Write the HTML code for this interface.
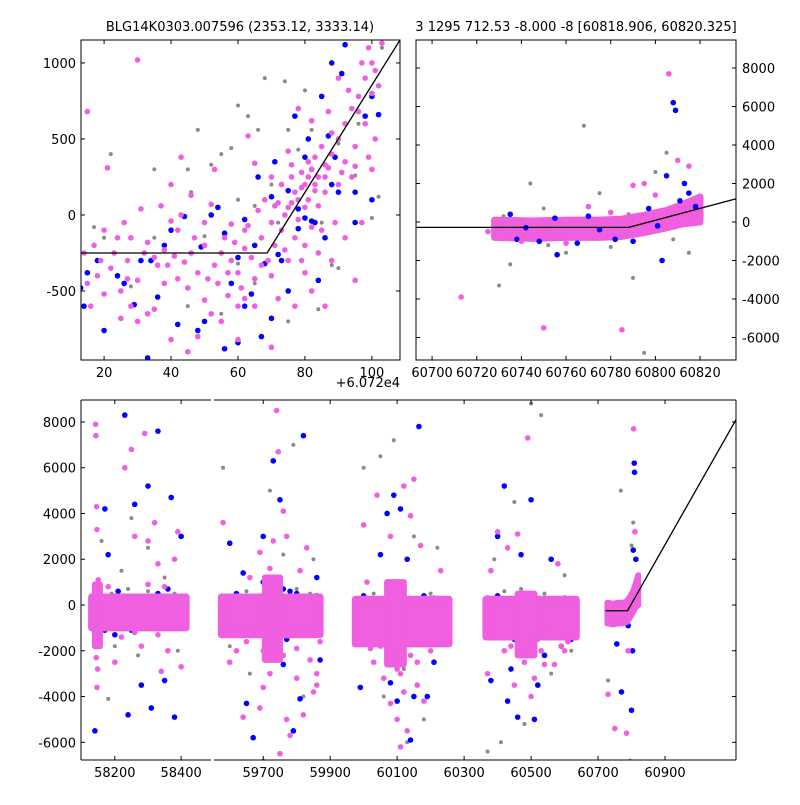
<!DOCTYPE html>
<html><head><meta charset="utf-8"><style>
body{margin:0;background:#fff}
svg text{font-family:"DejaVu Sans","Liberation Sans",sans-serif;font-size:13px;fill:#000}
</style></head><body>
<svg id="c" width="800" height="800" viewBox="0 0 800 800" xmlns="http://www.w3.org/2000/svg">
<rect width="800" height="800" fill="#fff"/>
<text x="240" y="31" text-anchor="middle">BLG14K0303.007596 (2353.12, 3333.14)</text>
<text x="576" y="31" text-anchor="middle">3 1295 712.53 -8.000 -8 [60818.906, 60820.325]</text>
<text x="400" y="387" text-anchor="end">+6.072e4</text>
<defs>
<clipPath id="cpA"><rect x="81" y="40" width="319" height="320"/></clipPath>
<clipPath id="cpB"><rect x="416" y="40" width="320" height="320"/></clipPath>
<clipPath id="cpC"><rect x="81" y="400" width="130" height="360"/></clipPath>
<clipPath id="cpD"><rect x="214" y="400" width="522" height="360"/></clipPath>
</defs>
<g id="layer"></g>
</svg>
<script>
// ---- top-left (zoomed, offset 60720) ----
const tlPink=[[15,680],[21,310],[30,1020],[40,-40],[42,-100],[33,-180],[27,-300],[18,-400],[22,-350],[25,-500],[30,-430],[35,-280],[38,-230],[44,-310],[47,-150],[50,-200],[55,-250],[58,-300],[60,-380],[62,-220],[45,-480],[50,-560],[52,-650],[55,-700],[35,-620],[30,-700],[20,-520],[16,-600],[48,-800],[60,-600],[65,-600],[67,-150],[63,-70],[58,-60],[52,70],[46,130],[40,200],[43,380],[53,300],[65,340],[63,520],[72,80],[74,0],[76,250],[78,100],[80,200],[82,300],[84,250],[86,150],[88,400],[90,500],[92,600],[94,700],[96,780],[98,900],[100,1000],[100,800],[102,850],[98,600],[95,450],[92,350],[90,200],[85,-100],[80,-200],[75,-300],[70,-400],[72,-550],[77,-600],[82,-500],[88,-300],[92,-150],[97,-50],[100,300],[101,500],[78,700],[82,620],[85,450],[88,540],[75,420],[70,250],[68,100],[66,30],[62,-100],[56,-150],[50,-50],[43,0],[37,60],[31,40],[26,-50],[20,-100],[17,-200],[14,-250],[23,-250],[28,-600],[33,-650],[38,-450],[42,-420],[48,-380],[54,-450],[57,-530],[61,-480],[65,-420],[69,-300],[71,-200],[73,-100],[75,50],[77,150],[79,280],[81,350],[83,380],[87,310],[91,280],[95,320],[99,380],[60,-820],[40,-820],[25,-680],[45,-900],[70,-870],[80,-380],[86,-600],[95,-430],[89,-50],[94,250],[96,680],[99,1100],[103,1130],[93,820],[87,680],[79,180],[81,100],[83,160],[76,80],[78,-30],[84,60],[86,330],[73,200],[71,60],[80,50],[82,-80],[77,-150],[74,-230],[79,-300],[84,-250],[76,330],[70,-50],[67,-330],[64,-280],[59,-180],[53,-330],[46,-250],[41,-270],[36,-330],[32,-250],[28,-150],[24,-150],[19,-300],[15,-450],[27,-420],[39,-330],[51,-420],[57,-380],[62,-550],[90,900],[97,1000],[101,950],[86,250],[83,200],[81,250]];
const tlBlue=[[14,-600],[13,-480],[20,-760],[26,-450],[29,-590],[34,-300],[38,-200],[40,-100],[44,-10],[49,-210],[56,-120],[60,-280],[62,-30],[66,250],[65,-200],[70,120],[72,-260],[75,-500],[78,-90],[80,380],[82,300],[84,-430],[86,-150],[90,150],[95,-50],[98,650],[100,780],[102,660],[91,930],[88,1000],[92,1120],[85,780],[81,500],[75,160],[70,-680],[67,-800],[62,-600],[56,-880],[50,-700],[48,-760],[42,-720],[36,-540],[31,-300],[24,-400],[18,-300],[15,-380],[52,0],[54,50],[60,-840],[33,-940],[77,650],[71,350],[88,200],[95,150],[100,100],[83,-50],[64,-520],[58,-450],[80,-20],[82,-40],[78,40],[87,520],[89,380],[73,-300],[68,-320]];
const tlGray=[[17,-80],[20,-150],[22,400],[35,300],[46,150],[60,720],[63,650],[66,560],[58,440],[55,400],[48,560],[45,300],[52,330],[40,-100],[50,-140],[60,100],[65,60],[70,200],[72,-50],[75,560],[80,820],[82,560],[90,470],[95,260],[102,120],[85,-50],[90,-350],[84,-620],[75,-700],[65,-450],[55,-650],[45,-600],[60,-320],[28,-470],[35,-150],[68,900],[74,880],[78,430],[88,-330],[100,-20],[96,600],[103,1100]];
const tlLineX=[12,68.7,108.4];
const tlLineY=[-250,-250,1151];
const tlXTicks=[20,40,60,80,100];
const tlYTicks=[-500,0,500,1000];
// ---- top-right (latest season) ----
const trBandX=[60728,60745,60760,60775,60785,60795,60805,60812,60820];
const trBandLo=[-800,-850,-800,-800,-750,-550,-300,-100,0];
const trBandHi=[100,50,100,100,150,350,600,900,1300];
const trPink=[[60713,-3900],[60750,-5500],[60785,-5600],[60806,7700],[60790,1900],[60795,2000],[60810,3200],[60815,2900],[60740,-1000],[60770,800],[60800,1400],[60730,-300],[60725,-500],[60760,-1100],[60780,500]];
const trBlue=[[60808,6200],[60809,5800],[60805,2400],[60813,2000],[60803,-2000],[60756,-1700],[60738,-900],[60765,-1100],[60790,-1000],[60815,1500],[60735,400],[60748,-1000],[60770,300],[60782,-900],[60797,700],[60801,-200],[60811,1100],[60818,800],[60742,-300],[60775,-400],[60755,200]];
const trGray=[[60768,5000],[60744,2000],[60760,-1600],[60795,-6800],[60730,-3300],[60800,2600],[60805,3600],[60735,-2200],[60790,-2900],[60815,-1600],[60775,1500],[60750,700],[60780,-1300],[60732,300],[60752,-1200],[60788,400],[60808,-900]];
const trLineX=[60690,60788,60836];
const trLineY=[-280,-280,1200];
const trXTicks=[60700,60720,60740,60760,60780,60800,60820];
const trYTicks=[-6000,-4000,-2000,0,2000,4000,6000,8000];
// ---- bottom (all seasons) ----
const seasonStart=[58130,59575,59975,60365];
const seasonEnd=[58415,59870,60255,60635];
const seasonLo=[-1000,-1300,-1700,-1400];
const seasonHi=[350,350,250,250];
const spineStart=[58140,59705,60070,60460];
const spineEnd=[58155,59750,60120,60510];
const spineLo=[-1800,-2400,-2600,-2200];
const spineHi=[900,1200,1000,500];
const btPink=[[58142,7900],[58143,7400],[58145,4300],[58146,3300],[58144,-2300],[58148,-2800],[58146,-3600],[58150,1100],[58250,6800],[58230,6000],[58260,3000],[58300,2800],[58320,3600],[58330,1800],[58340,-2900],[58390,3200],[58360,-2000],[58200,-2500],[58280,-1800],[58400,-2700],[58290,7500],[58380,2000],[58220,-1400],[58260,-1200],[58300,900],[58350,800],[58180,800],[58330,-1300],
[59580,3600],[59600,-2500],[59640,-4900],[59690,-4500],[59700,-3600],[59720,-3000],[59730,2800],[59740,8500],[59745,6700],[59760,4100],[59770,3000],[59780,-5700],[59800,-3200],[59820,-4800],[59850,-3800],[59860,-3000],[59870,-1600],[59830,2500],[59810,1500],[59750,-6500],[59770,-5000],[59720,1600],[59660,1200],[59690,2300],[59610,-1200],[59700,-2000],[59760,-2200],[59740,-1800],[59650,-1600],[59800,-1900],[59840,-2400],[59860,-3500],[59620,-2000],
[60000,3500],[60040,4800],[60080,3000],[60100,9300],[60120,5200],[60140,3900],[60150,5500],[60100,-5000],[60110,-6200],[60130,-5500],[60080,-4300],[60060,-3200],[60030,-2500],[60160,-3500],[60200,-2000],[60180,-4200],[60120,-3800],[60090,-2400],[60050,-1800],[60170,2600],[60230,1500],[60010,1000],[60100,-2800],[60110,-3000],[60090,-2000],[60140,-2200],[60070,-2600],[60160,-2500],[60020,-1900],
[60370,-3000],[60400,3200],[60430,2500],[60460,3100],[60480,-2500],[60500,-4000],[60510,-3200],[60530,-2000],[60550,-1000],[60570,-2600],[60600,-2000],[60610,-1600],[60450,-3500],[60420,-2000],[60490,7300],[60520,-1500],[60380,1500],[60580,1800],[60470,-2100],[60540,-2600],[60590,-1800],[60440,-1800],
[60730,-3900],[60750,-5400],[60785,-5600],[60806,7700],[60810,3200],[60812,9400],[60790,-2000]];
const btBlue=[[58140,-5500],[58230,8300],[58170,4200],[58180,2200],[58260,4400],[58300,5200],[58330,7600],[58370,4700],[58380,-4900],[58240,-4800],[58310,-4500],[58200,-1300],[58350,-3300],[58280,-3500],[58400,3000],[58150,-700],[58210,600],[58330,500],[58390,-1000],[58250,-1100],[58170,-1100],[58360,700],
[59600,2700],[59650,-4300],[59670,-5800],[59700,3000],[59730,6300],[59750,4600],[59790,-5500],[59820,7400],[59810,-4100],[59870,-2400],[59640,1400],[59860,1200],[59760,-2600],[59780,600],[59800,500],[59860,400],[59590,-1300],[59620,500],[59840,-1300],[59700,1000],[59760,700],[59770,-1500],
[59990,-3600],[60020,-1800],[60050,2200],[60080,-3400],[60090,4800],[60110,4200],[60140,-5900],[60150,-4000],[60165,7800],[60190,-4000],[60210,-2500],[60100,-4200],[60070,4000],[60130,2000],[60240,-1200],[59985,-600],[60000,400],[60180,400],[60230,-1600],[60040,-1700],[60210,300],
[60380,-3300],[60400,3000],[60430,-4200],[60440,-2800],[60470,2200],[60500,4600],[60510,-5000],[60520,-3500],[60540,-2200],[60560,2000],[60590,-1800],[60460,-4900],[60480,-2100],[60420,5200],[60370,300],[60400,400],[60600,300],[60620,-1500],[60450,-1500],[60500,-1600],[60570,-200],
[60808,6200],[60809,5800],[60805,2400],[60813,2000],[60803,-2000],[60756,-1700],[60800,-4600],[60770,-3800],[60740,-800],[60790,-900],[60815,1000]];
const btGray=[[58330,9300],[58250,3800],[58200,-1800],[58180,-4100],[58300,2500],[58350,1200],[58390,-2000],[58220,1500],[58270,-2200],[58160,2800],[58240,700],[58300,600],[58380,500],[58190,500],
[59580,6000],[59720,5000],[59790,7000],[59660,-3000],[59700,-6800],[59820,-4000],[59850,2000],[59600,-1800],[59760,2200],[59650,600],[59800,700],[59840,500],[59720,-1500],
[60000,6000],[60050,6500],[60090,7200],[60130,-6000],[60180,-5000],[60060,-4000],[60220,2500],[60150,3000],[60120,-2800],[60030,500],[60100,600],[60200,500],[60240,200],
[60370,-6400],[60410,-6000],[60450,4500],[60500,8800],[60530,8300],[60560,-3000],[60600,1300],[60480,-5200],[60620,-2000],[60390,2000],[60420,600],[60470,700],[60540,500],
[60768,5000],[60795,-6800],[60800,2600],[60805,3600],[60730,-3300]];
const btLineX=[60722,60788,61112];
const btLineY=[-250,-250,8100];
const btXTicksA=[58200,58400];
const btXTicksB=[59700,59900,60100,60300,60500,60700,60900];
const btYTicks=[-6000,-4000,-2000,0,2000,4000,6000,8000];

const PINK='#ef5fe0',BLUE='#0000ff',GRAY='#8a8a8a';
const NS='http://www.w3.org/2000/svg';
const layer=document.getElementById('layer');
function mk(tag,attrs,parent){const e=document.createElementNS(NS,tag);for(const k in attrs)e.setAttribute(k,attrs[k]);(parent||layer).appendChild(e);return e;}
function lin(d0,d1,p0,p1){return v=>p0+(v-d0)*(p1-p0)/(d1-d0);}

const A={x:lin(13.1,108.4,81,400),y:lin(-954,1151,360,40),clip:'cpA'};
const B={x:lin(60692.8,60836.1,416,736),y:lin(-7169,9455,360,40),clip:'cpB'};
const C={x:lin(58098,58490,81,211),y:lin(-6774,8960,760,400),clip:'cpC'};
const D={x:lin(59553,61112,214,736),y:lin(-6774,8960,760,400),clip:'cpD'};

function group(ax,name){const g=mk('g',{'clip-path':'url(#'+ax.clip+')'});return g;}
function points(ax,g,arr,col,r,name){arr.forEach(p=>{const c=mk('circle',{cx:ax.x(p[0]),cy:ax.y(p[1]),r:r,fill:col},g);});}
function band(ax,g,xs,lo,hi,col,w,name){let d='';xs.forEach((x,i)=>{d+=(i?'L':'M')+ax.x(x)+','+ax.y(hi[i]);});for(let i=xs.length-1;i>=0;i--)d+='L'+ax.x(xs[i])+','+ax.y(lo[i]);d+='Z';const p=mk('path',{d:d,fill:col,stroke:col,'stroke-width':w,'stroke-linejoin':'round'},g);}
function seasons(ax,g){seasonStart.forEach((s,i)=>{
 band(ax,g,[s,seasonEnd[i]],[seasonLo[i],seasonLo[i]],[seasonHi[i],seasonHi[i]],PINK,7,'season-pink-band');
 band(ax,g,[spineStart[i],spineEnd[i]],[spineLo[i],spineLo[i]],[spineHi[i],spineHi[i]],PINK,6,'season-pink-spine');});}
function trBands(ax,g,w){band(ax,g,trBandX,trBandLo,trBandHi,PINK,w,'recent-pink-band');}
function line(ax,g,xs,ys){const l=mk('polyline',{points:xs.map((x,i)=>ax.x(x)+','+ax.y(ys[i])).join(' '),fill:'none',stroke:'#000','stroke-width':1.3},g);}
function xticks(ax,ticks,y0,y1,labels){ticks.forEach(t=>{const px=ax.x(t);mk('line',{x1:px,x2:px,y1:y1,y2:y1-4,stroke:'#000'});mk('line',{x1:px,x2:px,y1:y0,y2:y0+4,stroke:'#000'});if(labels){const tx=mk('text',{x:px,y:y1+17,'text-anchor':'middle'});tx.textContent=t;}});}
function yticks(ax,ticks,x0,x1,side,ticksLeft,ticksRight){ticks.forEach(t=>{const py=ax.y(t);if(ticksLeft)mk('line',{x1:x0,x2:x0+4,y1:py,y2:py,stroke:'#000'});if(ticksRight)mk('line',{x1:x1,x2:x1-4,y1:py,y2:py,stroke:'#000'});const tx=side==='left'?mk('text',{x:x0-5,y:py+5,'text-anchor':'end'}):mk('text',{x:x1+6,y:py+5,'text-anchor':'start'});tx.textContent=t;});}

// top-left
let g=group(A,'zoom-panel-points');
points(A,g,tlGray,GRAY,2,'gray-point');points(A,g,tlBlue,BLUE,2.8,'blue-point');points(A,g,tlPink,PINK,2.8,'pink-point');line(A,g,tlLineX,tlLineY);
// top-right
g=group(B,'recent-panel-points');
points(B,g,trGray,GRAY,2,'gray-point');trBands(B,g,7);points(B,g,trBlue,BLUE,2.8,'blue-point');points(B,g,trPink,PINK,2.8,'pink-point');line(B,g,trLineX,trLineY);
// bottom
[C,D].forEach((ax,i)=>{const gg=group(ax,i?'bottom-right-points':'bottom-left-points');points(ax,gg,btGray,GRAY,2,'gray-point');points(ax,gg,btBlue,BLUE,2.8,'blue-point');seasons(ax,gg);if(i)trBands(ax,gg,6);points(ax,gg,btPink,PINK,2.8,'pink-point');if(i)line(ax,gg,btLineX,btLineY);});

// frames & ticks
function rect(x,y,w,h,name){const r=mk('rect',{x:x,y:y,width:w,height:h,fill:'none',stroke:'#000','stroke-width':1});}
rect(81,40,319,320,'zoom-panel-frame');rect(416,40,320,320,'recent-panel-frame');
xticks(A,tlXTicks,40,360,true);yticks(A,tlYTicks,81,400,'left',true,true);
xticks(B,trXTicks,40,360,true);yticks(B,trYTicks,416,736,'right',true,true);
[[81,211],[214,736]].forEach(s=>{mk('line',{x1:s[0],x2:s[1],y1:400,y2:400,stroke:'#000'});mk('line',{x1:s[0],x2:s[1],y1:760,y2:760,stroke:'#000'});});
mk('line',{x1:81,x2:81,y1:400,y2:760,stroke:'#000'});mk('line',{x1:736,x2:736,y1:400,y2:760,stroke:'#000'});
xticks(C,btXTicksA,400,760,true);xticks(D,btXTicksB,400,760,true);
yticks(C,btYTicks,81,211,'left',true,false);
btYTicks.forEach(t=>{const py=D.y(t);mk('line',{x1:736,x2:732,y1:py,y2:py,stroke:'#000'});});
</script>
</body></html>
